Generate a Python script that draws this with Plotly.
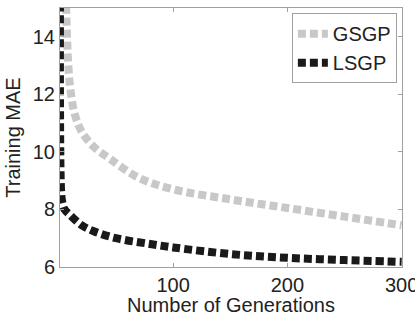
import plotly.graph_objects as go

gsgp_x = [6, 7, 8, 10, 14, 20, 30, 45, 70, 100, 150, 200, 250, 300]
gsgp_y = [15.5, 14.2, 13.2, 12.2, 11.3, 10.7, 10.2, 9.75, 9.1, 8.7, 8.35, 8.05, 7.75, 7.45]
lsgp_x = [1, 2, 3, 5, 10, 20, 30, 50, 80, 100, 150, 200, 250, 300]
lsgp_y = [16.0, 8.6, 8.25, 8.0, 7.8, 7.45, 7.25, 7.0, 6.8, 6.68, 6.45, 6.32, 6.24, 6.18]

font = "Liberation Sans, Arial, sans-serif"
fig = go.Figure()
fig.add_trace(go.Scatter(x=gsgp_x, y=gsgp_y, mode="lines", name="GSGP",
                         line=dict(color="#c8c8c8", width=8, dash="8px,4px", shape="spline")))
fig.add_trace(go.Scatter(x=lsgp_x, y=lsgp_y, mode="lines", name="LSGP",
                         line=dict(color="#1a1a1a", width=8, dash="8px,4px", shape="spline")))

axis_common = dict(showline=True, linecolor="#a0a0a0", linewidth=1, mirror="ticks",
                   ticks="inside", ticklen=4, tickcolor="#a0a0a0", showgrid=False, zeroline=False,
                   tickfont=dict(family=font, size=20, color="#222"), ticklabeloverflow="allow",
                   automargin=False)
fig.update_xaxes(range=[1, 300.3], tickvals=[100, 200, 300],
                 title=dict(text="Number of Generations", font=dict(family=font, size=20, color="#222"), standoff=4),
                 **axis_common)
fig.update_yaxes(range=[6, 15], tickvals=[6, 8, 10, 12, 14],
                 title=dict(text="Training MAE", font=dict(family=font, size=20, color="#222"), standoff=6),
                 **axis_common)
fig.update_layout(width=415, height=316, margin=dict(l=60, r=13, t=8, b=49, autoexpand=False),
                  plot_bgcolor="white", paper_bgcolor="white",
                  legend=dict(x=0.985, y=0.98, xanchor="right", yanchor="top",
                              bordercolor="#a0a0a0", borderwidth=1, bgcolor="white",
                              font=dict(family=font, size=20, color="#222"),
                              tracegroupgap=0, itemwidth=30))
fig.write_html("out.html")
